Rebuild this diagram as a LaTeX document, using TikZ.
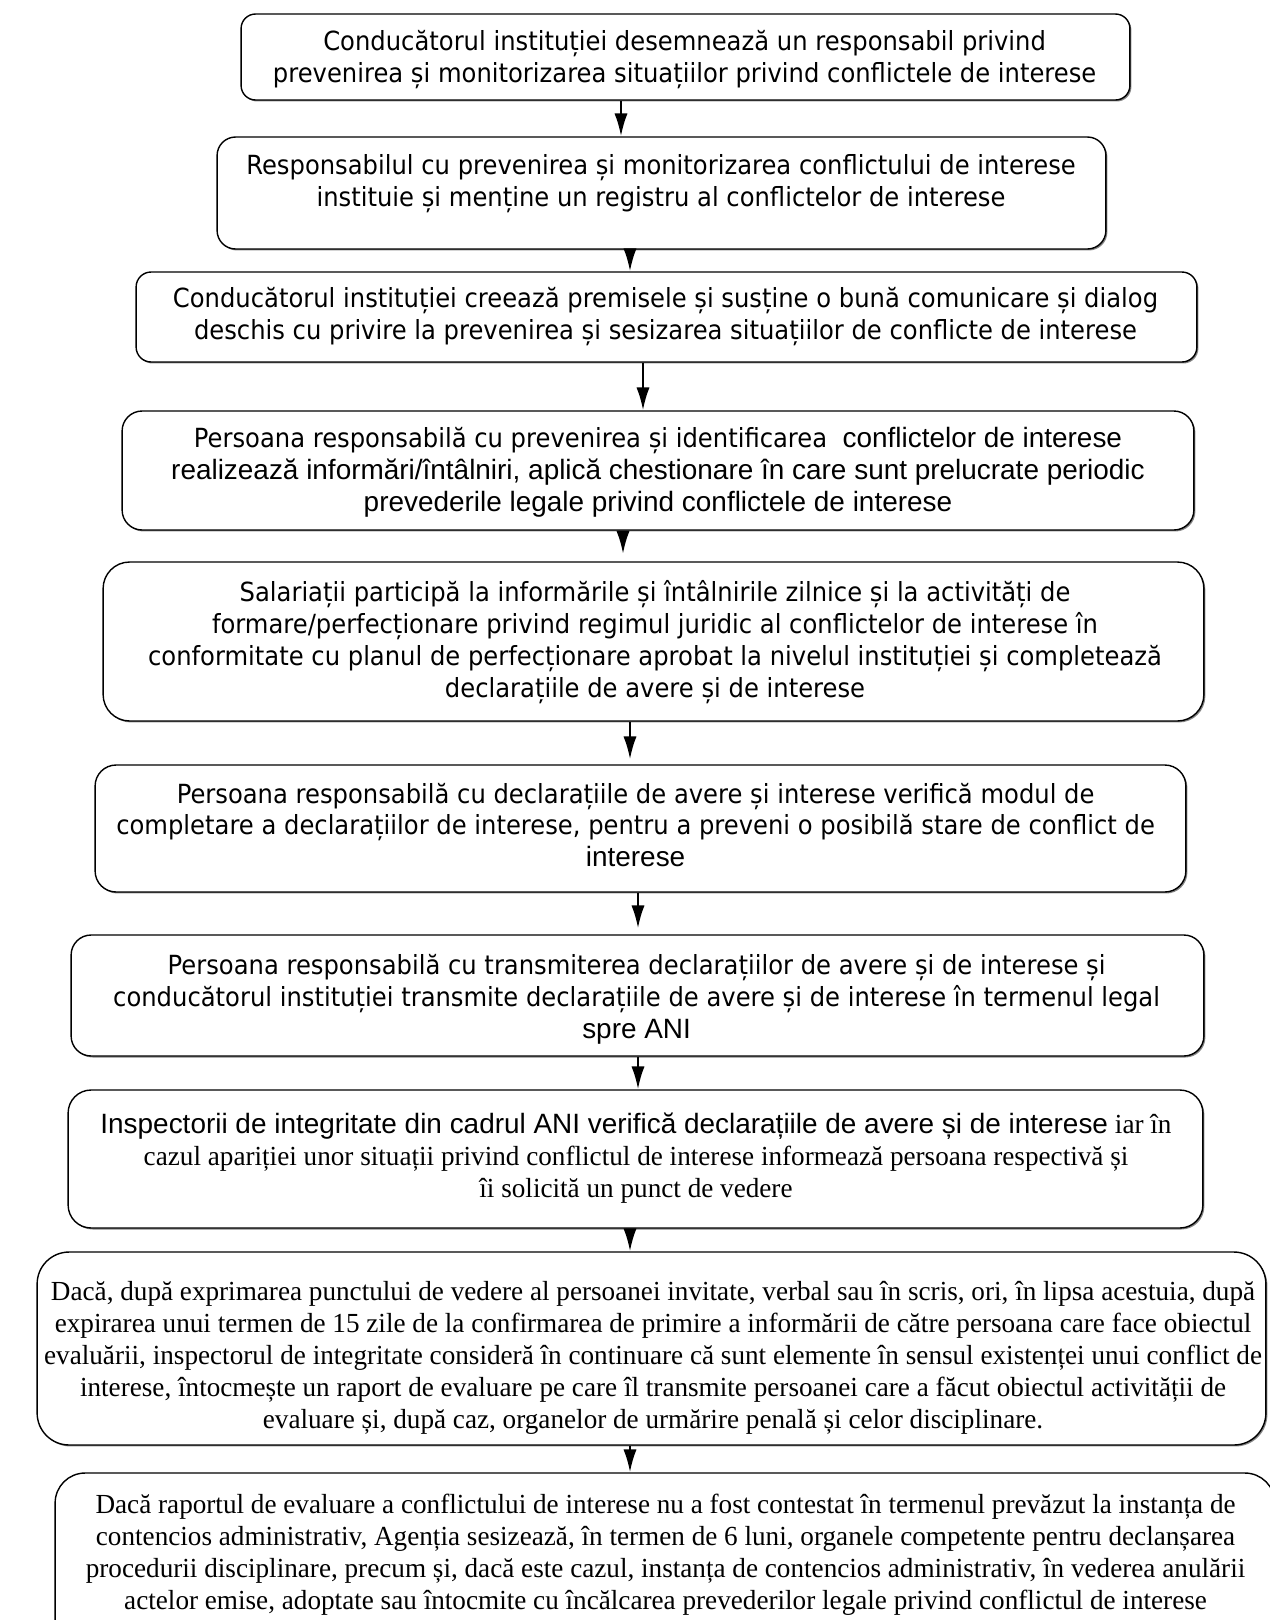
\documentclass[tikz,border=0pt]{standalone}
\usepackage{fontspec}
\setmainfont{Liberation Serif}[FakeStretch=0.985]
\newfontfamily\tahoma{DejaVu Sans}[FakeStretch=0.92]
\newfontfamily\arial{Liberation Sans}[Scale=1.06]
\usepackage{tikz}
\usetikzlibrary{arrows.meta, shapes, positioning, shadows}
\tikzstyle{caseta} = [rectangle, draw = black, line width = 0.8pt, fill = white, drop shadow = {shadow xshift = 0.03cm, shadow yshift = -0.03cm, fill = black!60, opacity = 0.8}]
\tikzstyle{textsans} = [align = center, inner sep = 0pt, font = \tahoma\fontsize{15pt}{18.14pt}\selectfont]
\tikzstyle{textserif} = [align = center, inner sep = 0pt, font = \rmfamily\fontsize{15.7pt}{18.14pt}\selectfont]
\tikzstyle{sageata} = [-{Latex[length = 13pt, width = 7.5pt]}, line width = 1.3pt]

\begin{document}
\begin{tikzpicture}[x = 0.02cm, y = -0.02cm]
\useasboundingbox (0,0) rectangle (1270,1620);

\node (b1) [caseta, minimum width = 17.78cm, minimum height = 1.72cm, rounded corners = 0.29cm] at (685.5,57) {};
\node (b2) [caseta, minimum width = 17.78cm, minimum height = 2.24cm, rounded corners = 0.37cm] at (661.5,193) {};
\node (b3) [caseta, minimum width = 21.22cm, minimum height = 1.8cm, rounded corners = 0.3cm] at (666.5,317) {};
\node (b4) [caseta, minimum width = 21.44cm, minimum height = 2.38cm, rounded corners = 0.4cm] at (658,470.5) {};
\node (b5) [caseta, minimum width = 22.02cm, minimum height = 3.18cm, rounded corners = 0.53cm] at (653.5,641.5) {};
\node (b6) [caseta, minimum width = 21.82cm, minimum height = 2.54cm, rounded corners = 0.42cm] at (640.5,828.5) {};
\node (b7) [caseta, minimum width = 22.66cm, minimum height = 2.42cm, rounded corners = 0.4cm] at (637.5,995.5) {};
\node (b8) [caseta, minimum width = 22.7cm, minimum height = 2.76cm, rounded corners = 0.46cm] at (635.5,1159) {};
\node (b9) [caseta, minimum width = 24.58cm, minimum height = 3.86cm, rounded corners = 0.64cm] at (651.5,1348.5) {};
\node (b10) [caseta, minimum width = 24.4cm, minimum height = 3.54cm, rounded corners = 0.6cm] at (665,1561.5) {};

\node (t1) [textsans] at (684.6,60) {Conducătorul instituției desemnează un responsabil privind\\prevenirea și monitorizarea situațiilor privind conflictele de interese};
\node (t2) [textsans] at (661,183.5) {Responsabilul cu prevenirea și monitorizarea conflictului de interese\\instituie și menține un registru al conflictelor de interese};
\node (t3) [textsans] at (665.5,317) {Conducătorul instituției creează premisele și susține o bună comunicare și dialog\\deschis cu privire la prevenirea și sesizarea situațiilor de conflicte de interese};
\node (t4) [textsans] at (658,472.5) {Persoana responsabilă cu prevenirea și identificarea {\arial\ conflictelor de interese}\\{\arial realizează informări/întâlniri, aplică chestionare în care sunt prelucrate periodic}\\{\arial prevederile legale privind conflictele de interese}};
\node (t5) [textsans] at (655,642) {Salariații participă la informările și întâlnirile zilnice și la activități de\\formare/perfecționare privind regimul juridic al conflictelor de interese în\\conformitate cu planul de perfecționare aprobat la nivelul instituției și completează\\declarațiile de avere și de interese};
\node (t6) [textsans] at (635.6,825) {Persoana responsabilă cu declarațiile de avere și interese verifică modul de\\completare a declarațiilor de interese, pentru a preveni o posibilă stare de conflict de\\{\arial interese}};
\node (t7) [textsans] at (636.6,999.5) {Persoana responsabilă cu transmiterea declarațiilor de avere și de interese și\\conducătorul instituției transmite declarațiile de avere și de interese în termenul legal\\{\arial spre ANI}};
\node (t8) [textserif] at (636,1158) {{\arial\fontsize{15pt}{18.14pt}\selectfont Inspectorii de integritate din cadrul ANI verifică declarațiile de avere și de interese} iar în\\cazul apariției unor situații privind conflictul de interese informează persoana respectivă și\\îi solicită un punct de vedere};
\node (t9) [textserif] at (653,1358) {Dacă, după exprimarea punctului de vedere al persoanei invitate, verbal sau în scris, ori, în lipsa acestuia, după\\expirarea unui termen de 15 zile de la confirmarea de primire a informării de către persoana care face obiectul\\evaluării, inspectorul de integritate consideră în continuare că sunt elemente în sensul existenței unui conflict de\\interese, întocmește un raport de evaluare pe care îl transmite persoanei care a făcut obiectul activității de\\evaluare și, după caz, organelor de urmărire penală și celor disciplinare.};
\node (t10) [textserif] at (665.5,1555) {Dacă raportul de evaluare a conflictului de interese nu a fost contestat în termenul prevăzut la instanța de\\contencios administrativ, Agenția sesizează, în termen de 6 luni, organele competente pentru declanșarea\\procedurii disciplinare, precum și, dacă este cazul, instanța de contencios administrativ, în vederea anulării\\actelor emise, adoptate sau întocmite cu încălcarea prevederilor legale privind conflictul de interese};

\draw[sageata] (b1.south -| 621,0) -- (b2.north -| 621,0);
\draw[sageata] (b2.south -| 630,0) -- (b3.north -| 630,0);
\draw[sageata] (b3.south -| 643,0) -- (b4.north -| 643,0);
\draw[sageata, shorten > = 0.15cm] (b4.south -| 623,0) -- (b5.north -| 623,0);
\draw[sageata, shorten > = 0.1cm] (b5.south -| 630,0) -- (b6.north -| 630,0);
\draw[sageata, shorten > = 0.12cm] (b6.south -| 638,0) -- (b7.north -| 638,0);
\draw[sageata] (b7.south -| 638,0) -- (b8.north -| 638,0);
\draw[sageata] (b8.south -| 630,0) -- (b9.north -| 630,0);
\draw[sageata] (b9.south -| 630,0) -- (b10.north -| 630,0);
\end{tikzpicture}
\end{document}
